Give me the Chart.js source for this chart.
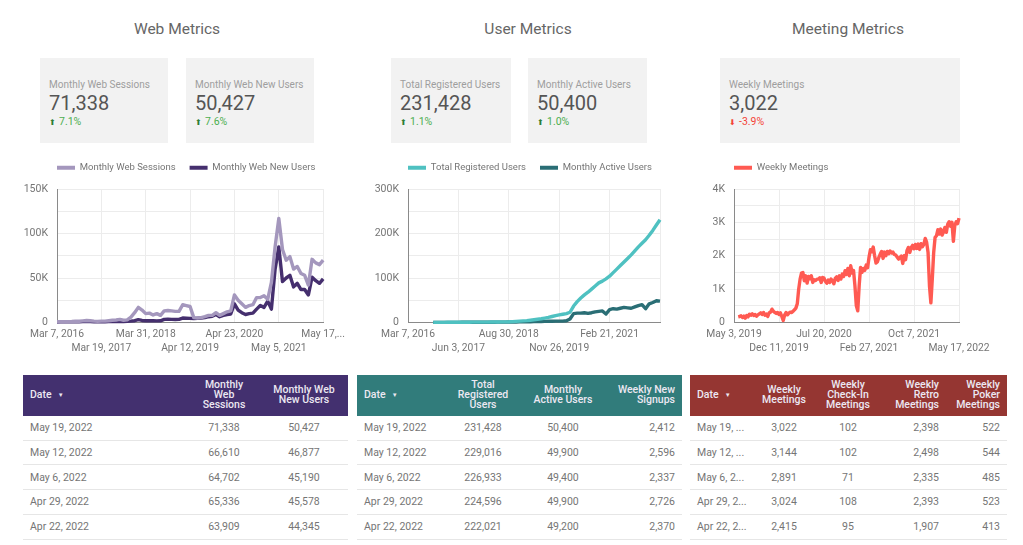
<!DOCTYPE html>
<html>
<head>
<meta charset="utf-8">
<title>Metrics dashboard</title>
<script src="https://cdn.jsdelivr.net/npm/chart.js@4"></script>
<style>
html, body { margin: 0; padding: 0; background: #fff; }
body { position: relative; width: 1023px; height: 545px; overflow: hidden; font-family: Roboto, sans-serif; }
.title { position: absolute; top: 20px; font-size: 15.5px; color: #666; transform: translateX(-50%); white-space: nowrap; }
.kpi { position: absolute; top: 58px; height: 85px; background: #f2f2f2; box-sizing: border-box; padding: 21px 0 0 9px; white-space: nowrap; }
.kpi .name { font-size: 10px; line-height: 12px; color: #9e9e9e; }
.kpi .num { font-size: 20px; line-height: 24px; color: #555; }
.kpi .delta { font-size: 10.5px; line-height: 12px; margin-top: 1px; }
.kpi .delta i { font-style: normal; font-size: 8px; margin-right: 3px; }
.up { color: #4caf50; }
.up i { color: #2e7d32; }
.down { color: #f44336; }
.chart { position: absolute; top: 148.5px; height: 211.5px; }
.tbl { position: absolute; top: 374.5px; font-size: 10.5px; color: #757575; }
.head { display: flex; height: 41.3px; color: #ece8f2; font-weight: 500; line-height: 10.3px; align-items: center; }
.row { display: flex; height: 24.75px; box-sizing: border-box; border-bottom: 1px solid #e6e6e6; align-items: center; }
.cell { box-sizing: border-box; flex: none; white-space: nowrap; }
.head .cell { white-space: pre-line; }
.tri { font-size: 6px; margin-left: 6px; position: relative; top: -1px; }
</style>
</head>
<body>
<script>
// ---- data ----
const webTickLabels = ['Mar 7, 2016', 'Mar 19, 2017', 'Mar 31, 2018', 'Apr 12, 2019', 'Apr 23, 2020', 'May 5, 2021', 'May 17,...'];
const webSessions = [800, 900, 900, 1000, 1200, 1500, 1400, 1800, 2200, 2000, 1500, 1300, 1500, 1500, 2000, 2500, 2800, 3500, 2500, 3000, 6000, 11000, 17000, 14000, 10000, 10500, 8500, 10000, 8000, 13000, 13500, 13000, 12500, 12500, 20000, 19000, 18000, 5500, 5000, 5500, 6500, 8000, 8000, 11000, 8000, 10000, 12000, 13000, 31000, 25000, 21000, 17000, 19000, 20000, 28000, 28000, 30000, 26000, 45000, 85000, 117000, 82000, 70000, 74000, 60000, 63000, 55000, 53000, 42000, 71000, 67000, 65000, 70000];
const webNewUsers = [600, 700, 700, 700, 800, 900, 900, 1000, 1100, 1000, 900, 800, 900, 900, 1000, 1100, 1100, 1200, 1200, 1300, 1500, 2000, 3200, 2300, 2000, 2000, 1900, 1800, 1900, 3500, 3700, 3500, 3400, 3500, 5000, 4800, 4600, 4500, 4700, 5000, 5500, 6500, 7000, 9000, 6500, 8000, 9000, 9500, 21000, 14000, 11000, 9000, 10000, 10500, 15000, 19000, 17000, 24000, 15000, 60000, 85000, 46000, 50000, 53000, 40000, 44000, 37000, 37000, 31000, 51000, 47000, 44000, 49000];

const userTickLabels = ['Mar 7, 2016', 'Jun 3, 2017', 'Aug 30, 2018', 'Nov 26, 2019', 'Feb 21, 2021', ''];
const totalRegistered = [null, null, null, null, null, null, null, 200, 250, 300, 350, 400, 450, 500, 550, 600, 650, 700, 750, 800, 850, 900, 950, 1000, 1100, 1200, 1300, 1400, 1600, 2000, 2500, 3000, 3600, 4300, 5200, 6200, 7300, 8500, 10000, 11500, 13500, 15500, 17000, 18500, 20000, 23000, 37000, 47000, 55000, 62000, 68000, 75000, 82000, 89000, 93000, 98000, 104000, 112000, 120000, 128000, 136000, 144000, 152000, 161000, 170000, 178000, 186000, 196000, 207000, 219000, 231000];
const monthlyActive = [null, null, null, null, null, null, null, 200, 220, 250, 280, 300, 320, 350, 380, 400, 420, 450, 480, 500, 520, 550, 600, 650, 700, 750, 800, 900, 1000, 1100, 1200, 1300, 1400, 1500, 1700, 1900, 2100, 2300, 2500, 2700, 2900, 3000, 3000, 3200, 4000, 8000, 20000, 21000, 21000, 22000, 20500, 22000, 24000, 25000, 26000, 19000, 29000, 31000, 30000, 32000, 34000, 33000, 32000, 35000, 38000, 40000, 31000, 42000, 45000, 49000, 48000];

const meetingTickLabels = ['May 3, 2019', 'Dec 11, 2019', 'Jul 20, 2020', 'Feb 27, 2021', 'Oct 7, 2021', 'May 17, 2022'];
const weeklyMeetings = [
	null, null, null, 170, 180, 200, 150, 190, 130, 210,
	170, 250, 220, 260, 210, 240, 190, 230, 260, 290,
	240, 300, 220, 250, 180, 290, 310, 400, 340, 300,
	270, 300, 240, 290, 180, 60, 220, 300, 230, 280,
	310, 300, 340, 380, 430, 560, 1000, 1300, 1480, 1500,
	1250, 1400, 1180, 1380, 1310, 1400, 1200, 1280, 1260, 1300,
	1300, 1340, 1200, 1350, 1330, 1230, 1180, 1270, 1200, 1300,
	1250, 1160, 1320, 1370, 1260, 1400, 1300, 1450, 1380, 1550,
	1440, 1620, 1400, 1700, 1480, 1560, 1100, 500, 350, 1100,
	1650, 1500, 1620, 1560, 1720, 1640, 1950, 2180, 2120, 2260,
	2000, 1780, 1820, 1950, 2050, 2130, 1920, 2110, 2000, 2130,
	2060, 2140, 2080, 2110, 2040, 2020, 1960, 1900, 1950, 1990,
	1770, 2000, 1880, 2150, 2250, 2100, 2240, 2310, 2210, 2340,
	2220, 2350, 2190, 2360, 2270, 2340, 2520, 2400, 2100, 1100,
	590, 1300, 2100, 2550, 2600, 2780, 2650, 2800, 2620, 2720,
	2850, 2700, 2950, 3020, 2880, 3000, 2430, 2900, 3020, 2960,
	3130
];

const webTableHead = ['Date', 'Monthly\nWeb\nSessions', 'Monthly Web\nNew Users'];
const webDates = ['May 19, 2022', 'May 12, 2022', 'May 6, 2022', 'Apr 29, 2022', 'Apr 22, 2022'];
const webTableSessions = ['71,338', '66,610', '64,702', '65,336', '63,909'];
const webTableNewUsers = ['50,427', '46,877', '45,190', '45,578', '44,345'];

const userTableHead = ['Date', 'Total\nRegistered\nUsers', 'Monthly\nActive Users', 'Weekly New\nSignups'];
const userTableTotal = ['231,428', '229,016', '226,933', '224,596', '222,021'];
const userTableActive = ['50,400', '49,900', '49,400', '49,900', '49,200'];
const userTableSignups = ['2,412', '2,596', '2,337', '2,726', '2,370'];

const meetTableHead = ['Date', 'Weekly\nMeetings', 'Weekly\nCheck-In\nMeetings', 'Weekly\nRetro\nMeetings', 'Weekly\nPoker\nMeetings'];
const meetDates = ['May 19, ...', 'May 12, ...', 'May 6, 2...', 'Apr 29, 2...', 'Apr 22, 2...'];
const meetTableWeekly = ['3,022', '3,144', '2,891', '3,024', '2,415'];
const meetTableCheckIn = ['102', '102', '71', '108', '95'];
const meetTableRetro = ['2,398', '2,498', '2,335', '2,393', '1,907'];
const meetTablePoker = ['522', '544', '485', '523', '413'];

// ---- headings and kpi cards ----
function addTitle(text, x) {
	const d = document.createElement('div');
	d.className = 'title';
	d.style.left = x + 'px';
	d.textContent = text;
	document.body.appendChild(d);
}
function addKpi(name, num, delta, up, left, width) {
	const d = document.createElement('div');
	d.className = 'kpi';
	d.style.left = left + 'px';
	d.style.width = width + 'px';
	d.innerHTML = '<div class="name">' + name + '</div><div class="num">' + num + '</div>' +
		'<div class="delta ' + (up ? 'up' : 'down') + '"><i>' + (up ? '⬆' : '⬇') + '</i>' + delta + '</div>';
	document.body.appendChild(d);
}
addTitle('Web Metrics', 177);
addTitle('User Metrics', 528);
addTitle('Meeting Metrics', 848);
addKpi('Monthly Web Sessions', '71,338', '7.1%', true, 40, 128);
addKpi('Monthly Web New Users', '50,427', '7.6%', true, 186, 128);
addKpi('Total Registered Users', '231,428', '1.1%', true, 391, 120);
addKpi('Monthly Active Users', '50,400', '1.0%', true, 528, 119);
addKpi('Weekly Meetings', '3,022', '-3.9%', false, 720, 240);

// ---- charts ----
// keeps the legend flush with the left of the plot, and leaves a gap under it
const legendAtPlot = {
	id: 'legendAtPlot',
	beforeInit(chart) {
		const fit = chart.legend.fit;
		chart.legend.fit = function () {
			fit.call(this);
			this.height += 6.5;
		};
	},
	beforeDraw(chart) {
		chart.legend.left = chart.chartArea.left - 14;
		chart.legend.right = chart.width;
	}
};

function addChart(cfg) {
	const wrap = document.createElement('div');
	wrap.className = 'chart';
	wrap.style.left = cfg.left + 'px';
	wrap.style.width = cfg.width + 'px';
	const canvas = document.createElement('canvas');
	wrap.appendChild(canvas);
	document.body.appendChild(wrap);
	const count = cfg.series[0].data.length;
	const labels = [];
	for (let i = 0; i < count; i++) {
		labels.push(i % cfg.every === 0 ? cfg.ticks[i / cfg.every] : '');
	}
	return new Chart(canvas, {
		type: 'line',
		data: {
			labels: labels,
			datasets: cfg.series.map(s => ({
				label: s.label,
				data: s.data,
				borderColor: s.color,
				backgroundColor: s.color,
				borderWidth: 3.4,
				borderJoinStyle: 'round',
				pointRadius: 0,
				tension: 0,
				clip: false
			}))
		},
		options: {
			animation: false,
			responsive: true,
			maintainAspectRatio: false,
			layout: { padding: { right: cfg.right, top: 0 } },
			plugins: {
				tooltip: { enabled: false },
				legend: {
					align: 'start',
					labels: {
						boxWidth: 18,
						boxHeight: 4,
						padding: 14,
						color: '#757575',
						font: { family: 'Roboto', size: 9.5 },
						generateLabels: chart => Chart.defaults.plugins.legend.labels.generateLabels(chart)
							.map(item => ({ ...item, lineWidth: 0 }))
					}
				}
			},
			scales: {
				x: {
					afterBuildTicks: s => { s.ticks = s.ticks.filter(t => t.value % cfg.every === 0); },
					afterFit: s => { s.height = 38; },
					grid: { color: '#ececec', drawTicks: false },
					border: { color: '#8a8a8a', width: 1 },
					ticks: {
						autoSkip: false,
						maxRotation: 0,
						padding: 5,
						color: '#757575',
						font: { family: 'Roboto', size: 10.3, lineHeight: 1.36 },
						callback(value, index) {
							const text = this.getLabelForValue(value);
							return index % 2 ? ['', text] : text;
						}
					}
				},
				y: {
					min: 0,
					max: cfg.max,
					afterFit: s => { s.width = cfg.yWidth; },
					grid: { color: '#ececec', drawTicks: false },
					border: { color: '#8a8a8a', width: 1 },
					ticks: {
						stepSize: cfg.step,
						padding: 9,
						color: '#757575',
						font: { family: 'Roboto', size: 10.5 },
						callback: v => (v % (cfg.step * 2) === 0 ? (v === 0 ? '0' : v / 1000 + 'K') : '')
					}
				}
			}
		},
		plugins: [legendAtPlot]
	});
}

addChart({
	left: 20, width: 330, yWidth: 37, right: 23, max: 150000, step: 25000, every: 12, ticks: webTickLabels,
	series: [
		{ label: 'Monthly Web Sessions', data: webSessions, color: '#a497bd' },
		{ label: 'Monthly Web New Users', data: webNewUsers, color: '#452f6e' }
	]
});
addChart({
	left: 370, width: 318, yWidth: 38, right: 28, max: 300000, step: 50000, every: 14, ticks: userTickLabels,
	series: [
		{ label: 'Total Registered Users', data: totalRegistered, color: '#4fc1c1' },
		{ label: 'Monthly Active Users', data: monthlyActive, color: '#2a6e75' }
	]
});
addChart({
	left: 700, width: 300, yWidth: 34, right: 41, max: 4000, step: 500, every: 32, ticks: meetingTickLabels,
	series: [
		{ label: 'Weekly Meetings', data: weeklyMeetings, color: '#ff5a52' }
	]
});

// ---- tables ----
function addTable(left, bg, columns, head, cols) {
	const t = document.createElement('div');
	t.className = 'tbl';
	t.style.left = left + 'px';
	const cellHtml = (text, c) => '<div class="cell" style="width:' + c.w + 'px;text-align:' + c.a +
		';padding-left:' + (c.pl || 0) + 'px;padding-right:' + (c.pr || 0) + 'px">' + text + '</div>';
	let html = '<div class="head" style="background:' + bg + '">';
	head.forEach((h, i) => {
		const text = i === 0 ? h + '<span class="tri">▼</span>' : h;
		html += cellHtml(text, columns[i]);
	});
	html += '</div>';
	cols[0].forEach((_, r) => {
		html += '<div class="row">';
		cols.forEach((col, i) => { html += cellHtml(col[r], columns[i]); });
		html += '</div>';
	});
	t.innerHTML = html;
	document.body.appendChild(t);
}
addTable(23, '#43306f',
	[{ w: 161, a: 'left', pl: 7 }, { w: 80, a: 'center' }, { w: 84, a: 'center', pr: 4 }],
	webTableHead, [webDates, webTableSessions, webTableNewUsers]);
addTable(357, '#317c7b',
	[{ w: 91, a: 'left', pl: 7 }, { w: 70, a: 'center' }, { w: 90, a: 'center' }, { w: 74, a: 'right', pr: 7 }],
	userTableHead, [webDates, userTableTotal, userTableActive, userTableSignups]);
addTable(690, '#953632',
	[{ w: 64, a: 'left', pl: 7 }, { w: 60, a: 'center' }, { w: 68, a: 'center' }, { w: 64, a: 'right', pr: 7 }, { w: 61, a: 'right', pr: 7 }],
	meetTableHead, [meetDates, meetTableWeekly, meetTableCheckIn, meetTableRetro, meetTablePoker]);
</script>
</body>
</html>
